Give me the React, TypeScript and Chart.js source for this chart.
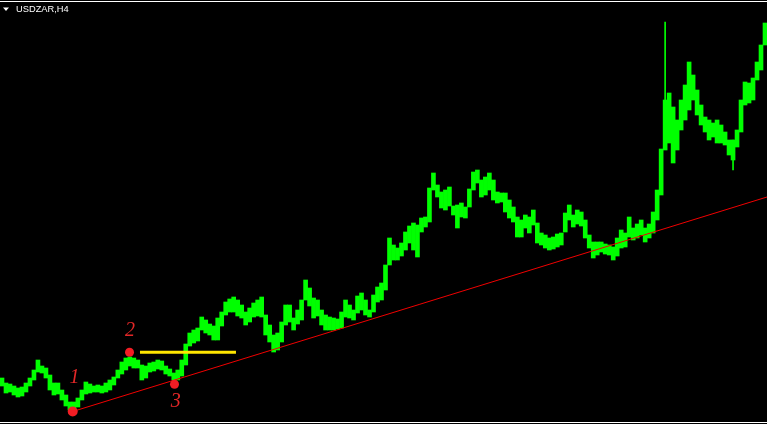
import { useEffect, useRef } from 'react';
import { Chart, registerables } from 'chart.js';

Chart.register(...registerables);

const symbolTitle = 'USDZAR,H4';

// H4 bar ranges (high / low), one entry per bar segment
const highs = [
  11.46, 11.41, 11.40, 11.38, 11.36, 11.37, 11.41, 11.46, 11.54, 11.64,
  11.58, 11.56, 11.49, 11.41, 11.41, 11.34, 11.29, 11.22, 11.22, 11.26,
  11.34, 11.42, 11.40, 11.38, 11.39, 11.38, 11.41, 11.44, 11.47, 11.54,
  11.62, 11.66, 11.67, 11.66, 11.64, 11.59, 11.58, 11.61, 11.62, 11.64,
  11.63, 11.58, 11.55, 11.51, 11.54, 11.64, 11.80, 11.91, 11.94, 11.96,
  12.07, 12.04, 12.00, 11.98, 12.06, 12.12, 12.22, 12.25, 12.27, 12.24,
  12.19, 12.12, 12.16, 12.21, 12.24, 12.27, 12.09, 11.99, 11.89, 11.91,
  12.02, 12.19, 12.19, 12.06, 12.14, 12.24, 12.44, 12.36, 12.26, 12.24,
  12.14, 12.09, 12.07, 12.06, 12.05, 12.12, 12.24, 12.19, 12.14, 12.28,
  12.31, 12.24, 12.14, 12.29, 12.37, 12.41, 12.59, 12.86, 12.79, 12.76,
  12.81, 12.92, 12.98, 13.01, 12.99, 13.06, 13.07, 13.36, 13.51, 13.39,
  13.32, 13.34, 13.37, 13.18, 13.19, 13.21, 13.17, 13.35, 13.52, 13.54,
  13.44, 13.47, 13.51, 13.44, 13.32, 13.31, 13.31, 13.24, 13.17, 13.07,
  13.04, 13.09, 13.07, 13.14, 13.01, 12.91, 12.89, 12.86, 12.87, 12.90,
  12.91, 13.11, 13.19, 13.09, 13.14, 13.12, 13.04, 12.89, 12.82, 12.82,
  12.82, 12.80, 12.79, 12.77, 12.86, 12.94, 12.91, 13.07, 12.96, 13.00,
  13.04, 12.96, 13.00, 13.12, 13.34, 13.75, 14.24, 14.31, 14.17, 14.04,
  14.24, 14.39, 14.62, 14.49, 14.34, 14.19, 14.07, 14.04, 14.01, 14.04,
  13.99, 13.92, 13.84, 13.84, 13.94, 14.24, 14.42, 14.41, 14.46, 14.62,
  14.79, 15.01,
];

const lows = [
  11.38, 11.31, 11.32, 11.29, 11.27, 11.28, 11.32, 11.38, 11.44, 11.52,
  11.51, 11.46, 11.34, 11.29, 11.30, 11.24, 11.18, 11.14, 11.15, 11.17,
  11.24, 11.30, 11.31, 11.32, 11.32, 11.31, 11.32, 11.34, 11.39, 11.46,
  11.50, 11.54, 11.58, 11.56, 11.56, 11.44, 11.46, 11.52, 11.53, 11.55,
  11.54, 11.50, 11.48, 11.44, 11.44, 11.48, 11.59, 11.78, 11.81, 11.83,
  11.94, 11.91, 11.89, 11.84, 11.84, 11.98, 12.09, 12.12, 12.12, 12.08,
  12.06, 11.99, 12.02, 12.07, 12.08, 12.07, 11.89, 11.82, 11.72, 11.74,
  11.82, 11.99, 12.02, 11.94, 12.00, 12.04, 12.24, 12.18, 12.06, 12.08,
  11.99, 11.94, 11.94, 11.94, 11.95, 11.96, 12.07, 12.06, 12.04, 12.11,
  12.14, 12.09, 12.07, 12.12, 12.22, 12.24, 12.34, 12.59, 12.64, 12.64,
  12.68, 12.74, 12.81, 12.74, 12.67, 12.92, 12.97, 13.02, 13.34, 13.27,
  13.16, 13.14, 13.18, 13.09, 12.96, 13.07, 13.06, 13.17, 13.34, 13.41,
  13.27, 13.29, 13.34, 13.24, 13.21, 13.22, 13.12, 13.06, 13.02, 12.87,
  12.87, 12.96, 12.91, 12.99, 12.81, 12.79, 12.76, 12.74, 12.75, 12.77,
  12.79, 12.92, 13.04, 12.97, 13.00, 12.98, 12.86, 12.76, 12.66, 12.69,
  12.72, 12.70, 12.69, 12.64, 12.68, 12.76, 12.77, 12.87, 12.84, 12.86,
  12.89, 12.82, 12.86, 12.91, 13.04, 13.29, 13.74, 13.81, 13.61, 13.74,
  13.94, 14.04, 14.14, 14.24, 14.09, 13.99, 13.92, 13.84, 13.87, 13.81,
  13.81, 13.79, 13.69, 13.64, 13.77, 13.92, 14.19, 14.21, 14.24, 14.44,
  14.54, 14.79,
];

// long thin wicks
const wickBars = [166, 183];
const wickLows = [14.24, 13.54];
const wickHighs = [15.02, 13.84];

// swing points 1, 2, 3
const pointBars = [17.7, 31.92, 43.18];
const pointPrices = [11.125, 11.717, 11.397];
const pointRadii = [5, 4.5, 4.5];
const pointLabels = ['1', '2', '3'];
const labelBars = [18.15, 32.04, 43.48];
const labelPrices = [11.465, 11.93, 11.22];

// trend line through point 1 (ray to the right edge)
const trendBars = [17.7, 191.5];
const trendPrices = [11.125, 13.27];

// horizontal level from point 2
const levelBars = [34.54, 58.57];
const levelPrice = 11.717;

const W = 767;
const H = 424;

export default function App() {
  const ref = useRef<HTMLCanvasElement | null>(null);

  useEffect(() => {
    document.body.style.margin = '0';
    document.body.style.overflow = 'hidden';
    document.body.style.background = '#000';
    const canvas = ref.current;
    if (!canvas) return;

    const overlay = {
      id: 'mtOverlay',
      beforeDraw(chart: any) {
        const c = chart.ctx;
        c.save();
        c.fillStyle = '#000';
        c.fillRect(0, 0, chart.width, chart.height);
        c.restore();
      },
      afterDatasetsDraw(chart: any) {
        const c = chart.ctx;
        const xs = chart.scales.x;
        const ys = chart.scales.y;
        c.save();
        c.fillStyle = '#e32727';
        c.font = "italic 20px 'Liberation Serif'";
        c.textAlign = 'center';
        c.textBaseline = 'middle';
        pointLabels.forEach((t, i) => {
          c.fillText(t, xs.getPixelForValue(labelBars[i]), ys.getPixelForValue(labelPrices[i]));
        });
        c.restore();
      },
      afterDraw(chart: any) {
        const c = chart.ctx;
        c.save();
        c.fillStyle = '#ffffff';
        c.fillRect(0, 1, chart.width, 1);
        c.fillRect(0, 422, chart.width, 1);
        c.beginPath();
        c.moveTo(3, 7.5);
        c.lineTo(9, 7.5);
        c.lineTo(6, 11);
        c.closePath();
        c.fill();
        c.font = "9.3px 'Liberation Sans'";
        c.textBaseline = 'alphabetic';
        c.textAlign = 'left';
        c.fillText(symbolTitle, 16, 12.4);
        c.restore();
      },
    };

    const chart = new Chart(canvas, {
      type: 'bar',
      data: {
        datasets: [
          {
            type: 'scatter',
            label: 'points',
            data: pointBars.map((b, i) => ({ x: b, y: pointPrices[i] })),
            pointRadius: pointRadii,
            pointBackgroundColor: '#f21d24',
            pointBorderWidth: 0,
            clip: false,
            order: 1,
          } as any,
          {
            type: 'line',
            label: 'level',
            data: levelBars.map((b) => ({ x: b, y: levelPrice })),
            borderColor: '#ffe600',
            borderWidth: 3,
            pointRadius: 0,
            order: 2,
          },
          {
            type: 'line',
            label: 'trend',
            data: trendBars.map((b, i) => ({ x: b, y: trendPrices[i] })),
            borderColor: '#f00000',
            borderWidth: 1,
            pointRadius: 0,
            order: 3,
          },
          {
            type: 'bar',
            label: 'wicks',
            data: wickBars.map((b, i) => ({ x: b, y: [wickLows[i], wickHighs[i]] })),
            backgroundColor: '#00ff00',
            borderWidth: 0,
            barThickness: 1,
            grouped: false,
            order: 4,
          } as any,
          {
            type: 'bar',
            label: symbolTitle,
            data: highs.map((h, i) => ({ x: i, y: [lows[i], h] })),
            backgroundColor: '#00ff00',
            borderWidth: 0,
            barPercentage: 1,
            categoryPercentage: 1,
            grouped: false,
            order: 5,
          } as any,
        ],
      },
      options: {
        responsive: false,
        animation: false,
        events: [],
        layout: { padding: 0, autoPadding: false },
        plugins: { legend: { display: false }, tooltip: { enabled: false }, title: { display: false } },
        scales: {
          x: { type: 'linear', min: -0.5, max: 191.5, display: false, offset: false },
          y: { type: 'linear', min: 11.0, max: 15.24, display: false },
        },
      },
      plugins: [overlay],
    });

    return () => chart.destroy();
  }, []);

  return (
    <div style={{ width: W, height: H, background: '#000' }}>
      <canvas ref={ref} width={W} height={H} style={{ display: 'block' }} />
    </div>
  );
}
